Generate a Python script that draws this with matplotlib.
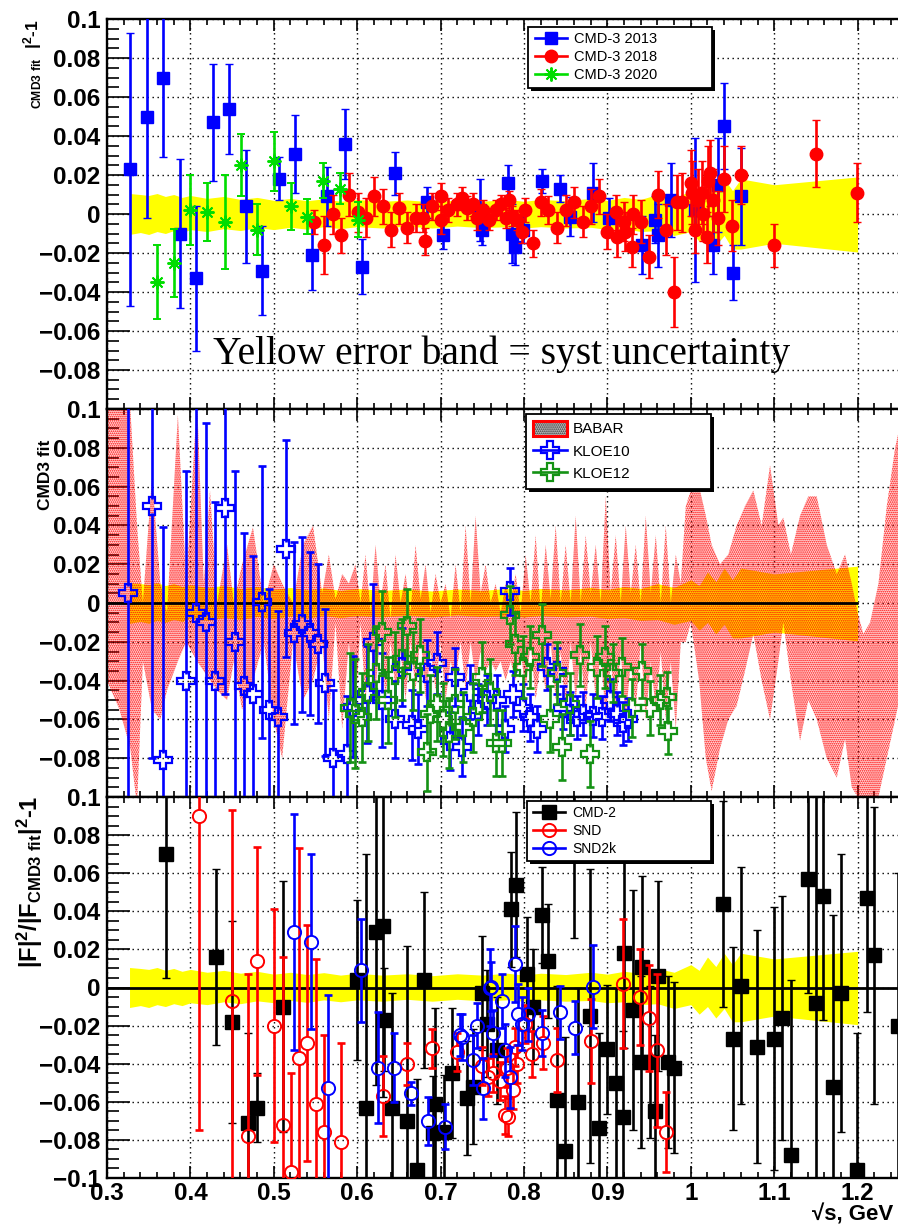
import numpy as np
import matplotlib
matplotlib.use("Agg")
import matplotlib.pyplot as plt
from matplotlib.lines import Line2D
from matplotlib.patches import Patch, Rectangle

plt.rcParams['font.family'] = ['Liberation Sans', 'DejaVu Sans']
plt.rcParams['mathtext.fontset'] = 'custom'
plt.rcParams['mathtext.rm'] = 'Liberation Sans:bold'
plt.rcParams['mathtext.it'] = 'Liberation Sans:bold'
plt.rcParams['mathtext.bf'] = 'Liberation Sans:bold'
plt.rcParams['hatch.linewidth'] = 0.8

# ---------------- data ----------------
# systematic uncertainty band of the CMD-3 fit
band_x = [0.327, 0.34, 0.35, 0.36, 0.37, 0.38, 0.39, 0.40, 0.42, 0.44, 0.46, 0.48, 0.50, 0.52,
          0.54, 0.56, 0.58, 0.60, 0.63, 0.66, 0.69, 0.72, 0.75, 0.78, 0.80, 0.82, 0.85, 0.88,
          0.90, 0.92, 0.94, 0.96, 0.98, 1.00, 1.01, 1.02, 1.03, 1.04, 1.05, 1.06, 1.10, 1.20]
band_hi = [0.0105, 0.010, 0.0095, 0.0105, 0.009, 0.010, 0.0085, 0.0095, 0.008, 0.009, 0.0075,
           0.0085, 0.007, 0.008, 0.0068, 0.0078, 0.0065, 0.0075, 0.0065, 0.0072, 0.0062, 0.0072,
           0.0065, 0.0075, 0.0065, 0.0075, 0.0068, 0.008, 0.007, 0.0085, 0.0075, 0.010, 0.008,
           0.012, 0.009, 0.016, 0.011, 0.018, 0.012, 0.018, 0.015, 0.019]
band_lo = [-0.0105, -0.0095, -0.0105, -0.009, -0.010, -0.0085, -0.0095, -0.008, -0.009, -0.0075,
           -0.0085, -0.007, -0.008, -0.0068, -0.0078, -0.0065, -0.0075, -0.0065, -0.0072, -0.0062,
           -0.0072, -0.0062, -0.007, -0.0065, -0.0072, -0.0065, -0.0072, -0.0068, -0.008, -0.0075,
           -0.009, -0.0085, -0.011, -0.009, -0.014, -0.010, -0.016, -0.011, -0.018, -0.018,
           -0.015, -0.0195]

# CMD-3 2013
c13_x = [0.328, 0.348, 0.367, 0.388, 0.407, 0.427, 0.446, 0.467, 0.486, 0.506, 0.525, 0.546,
         0.564, 0.585, 0.606, 0.645, 0.684, 0.703, 0.747, 0.750, 0.781, 0.786, 0.789, 0.799,
         0.822, 0.843, 0.855, 0.883, 0.902, 0.941, 0.957, 0.961, 0.976, 1.005, 1.027, 1.033,
         1.040, 1.051, 1.060]
c13_y = [0.023, 0.050, 0.070, -0.010, -0.033, 0.047, 0.054, 0.004, -0.029, 0.018, 0.031, -0.021,
         0.009, 0.036, -0.027, 0.021, 0.006, -0.011, 0.002, -0.008, 0.016, -0.010, -0.017, -0.008,
         0.017, 0.013, -0.0015, 0.011, -0.002, -0.016, -0.003, -0.011, 0.007, 0.002, -0.016, 0.015,
         0.045, -0.030, 0.009]
c13_e = [0.070, 0.052, 0.041, 0.038, 0.037, 0.030, 0.023, 0.029, 0.023, 0.011, 0.020, 0.018,
         0.015, 0.018, 0.014, 0.011, 0.008, 0.007, 0.016, 0.008, 0.009, 0.015, 0.009, 0.007,
         0.006, 0.007, 0.010, 0.015, 0.010, 0.015, 0.012, 0.016, 0.019, 0.037, 0.015, 0.024,
         0.022, 0.014, 0.025]

# CMD-3 2018
c18_x = [0.548, 0.560, 0.571, 0.580, 0.590, 0.601, 0.611, 0.620, 0.631, 0.641, 0.650, 0.660,
         0.670, 0.679, 0.681, 0.690, 0.700, 0.701, 0.709, 0.720, 0.726, 0.732, 0.739, 0.744,
         0.751, 0.758, 0.766, 0.772, 0.778, 0.782, 0.786, 0.792, 0.798, 0.801, 0.811, 0.820,
         0.829, 0.840, 0.850, 0.860, 0.871, 0.880, 0.890, 0.900, 0.910, 0.911, 0.920, 0.921,
         0.930, 0.931, 0.940, 0.950, 0.961, 0.970, 0.980, 0.983, 0.989, 1.000, 1.001, 1.005,
         1.009, 1.013, 1.015, 1.019, 1.021, 1.023, 1.027, 1.033, 1.040, 1.049, 1.060, 1.100,
         1.150, 1.199]
c18_y = [-0.004, -0.016, 0.000, -0.011, 0.010, 0.001, -0.002, 0.009, 0.004, -0.008, 0.003, -0.007,
         -0.002, -0.002, -0.014, 0.004, 0.009, -0.003, 0.002, 0.005, 0.008, 0.003, 0.005, -0.002,
         0.002, -0.003, 0.002, 0.005, -0.002, 0.007, -0.001, -0.003, -0.009, 0.002, -0.015, 0.006,
         0.002, -0.007, 0.002, 0.006, -0.004, 0.004, 0.009, -0.009, 0.001, -0.012, -0.004, -0.009,
         -0.017, 0.000, -0.004, -0.022, 0.010, -0.008, -0.040, 0.006, 0.006, 0.016, 0.011, -0.008,
         0.007, 0.011, 0.000, -0.012, 0.017, 0.021, 0.007, -0.002, 0.018, -0.006, 0.020, -0.016,
         0.031, 0.011]
c18_e = [0.006, 0.015, 0.010, 0.009, 0.011, 0.010, 0.010, 0.010, 0.009, 0.009, 0.008, 0.008,
         0.007, 0.007, 0.007, 0.007, 0.007, 0.007, 0.006, 0.006, 0.006, 0.006, 0.006, 0.006,
         0.005, 0.005, 0.005, 0.005, 0.005, 0.005, 0.005, 0.005, 0.006, 0.006, 0.007, 0.007,
         0.007, 0.008, 0.008, 0.008, 0.008, 0.009, 0.009, 0.009, 0.009, 0.010, 0.010, 0.010,
         0.010, 0.010, 0.011, 0.011, 0.012, 0.013, 0.018, 0.014, 0.015, 0.017, 0.016, 0.012,
         0.016, 0.016, 0.014, 0.013, 0.018, 0.017, 0.016, 0.014, 0.017, 0.013, 0.015, 0.011,
         0.017, 0.015]

# CMD-3 2020
c20_x = [0.360, 0.380, 0.400, 0.420, 0.4415, 0.461, 0.480, 0.500, 0.521, 0.540, 0.559, 0.579, 0.601]
c20_y = [-0.035, -0.025, 0.002, 0.001, -0.004, 0.025, -0.008, 0.027, 0.004, -0.0015, 0.017, 0.013, -0.003]
c20_e = [0.019, 0.0175, 0.018, 0.015, 0.024, 0.016, 0.013, 0.015, 0.012, 0.009, 0.009, 0.008, 0.009]

# BABAR band (lower / upper edge)
babar_x = [0.300, 0.315, 0.328, 0.336, 0.343, 0.354, 0.364, 0.372, 0.385, 0.395, 0.408, 0.416,
           0.4235, 0.432, 0.444, 0.452, 0.462, 0.475, 0.488, 0.500, 0.510, 0.523, 0.535, 0.547,
           0.558, 0.566, 0.574, 0.582, 0.590,
           0.598, 0.604, 0.610, 0.616, 0.622, 0.628, 0.634, 0.640, 0.646, 0.652, 0.658, 0.664,
           0.670, 0.676, 0.682, 0.688, 0.694, 0.700, 0.706, 0.712, 0.718, 0.724, 0.730, 0.736,
           0.742, 0.748, 0.754, 0.760, 0.766, 0.772, 0.778, 0.784, 0.790, 0.796, 0.802, 0.808,
           0.814, 0.820, 0.826, 0.832, 0.838, 0.844, 0.850, 0.856, 0.862, 0.868, 0.874, 0.880,
           0.886, 0.892, 0.898, 0.904, 0.910, 0.916, 0.922, 0.928, 0.934, 0.940, 0.946, 0.952,
           0.958, 0.964, 0.970, 0.976, 0.982, 0.988,
           0.994, 1.000, 1.010, 1.018, 1.025, 1.035, 1.045, 1.055, 1.065, 1.075, 1.085, 1.095,
           1.105, 1.111, 1.120, 1.131, 1.141, 1.151, 1.163, 1.175, 1.185, 1.193, 1.200, 1.207,
           1.215, 1.225, 1.235, 1.245, 1.250]
babar_lo = [-0.040, -0.055, -0.075, -0.105, -0.030, -0.055, -0.060, -0.045, -0.030, -0.020,
            -0.030, -0.035, -0.040, -0.045, -0.050, -0.030, -0.055, -0.040, -0.020, -0.060,
            -0.080, -0.020, -0.050, -0.040, -0.020, -0.060, -0.010, -0.065, -0.020,
            -0.055, -0.010, -0.050, -0.020, -0.045, -0.015, -0.050, -0.020, -0.045, -0.025,
            -0.050, -0.020, -0.045, -0.015, -0.050, -0.025, -0.045, -0.020, -0.050, -0.030,
            -0.040, -0.020, -0.045, -0.020, -0.040, -0.025, -0.035, -0.030, -0.035, -0.030,
            -0.040, -0.030, -0.040, -0.025, -0.045, -0.020, -0.050, -0.030, -0.045, -0.020,
            -0.050, -0.025, -0.055, -0.020, -0.050, -0.025, -0.055, -0.020, -0.050, -0.025,
            -0.060, -0.030, -0.055, -0.025, -0.060, -0.030, -0.055, -0.020, -0.060, -0.030,
            -0.055, -0.025, -0.060, -0.030, -0.065, -0.020,
            -0.020, -0.010, -0.040, -0.080, -0.097, -0.075, -0.060, -0.053, -0.035, -0.016,
            -0.040, -0.060, -0.030, -0.010, -0.040, -0.071, -0.050, -0.060, -0.080, -0.090,
            -0.070, -0.095, -0.100, -0.105, -0.100, -0.100, -0.080, -0.060, -0.050]
babar_hi = [0.120, 0.115, 0.100, 0.040, 0.000, 0.065, 0.010, -0.005, 0.097, 0.010, 0.105, 0.010,
            0.058, 0.000, 0.030, 0.000, 0.020, 0.039, 0.000, 0.020, 0.010, 0.000, 0.030, 0.040,
            0.005, 0.025, 0.002, 0.015, 0.010,
            0.020, 0.000, 0.025, -0.005, 0.030, 0.000, 0.020, -0.008, 0.025, 0.000, 0.015, -0.005,
            0.030, 0.002, 0.020, -0.005, 0.015, 0.000, 0.010, -0.008, 0.020, -0.005, 0.040, 0.000,
            0.045, 0.005, 0.020, 0.000, 0.010, -0.005, 0.010, 0.000, 0.015, -0.005, 0.025, 0.000,
            0.035, -0.005, 0.030, 0.002, 0.040, 0.000, 0.030, 0.000, 0.045, 0.000, 0.035, 0.005,
            0.030, 0.000, 0.055, 0.005, 0.035, 0.000, 0.040, 0.005, 0.030, 0.000, 0.045, 0.005,
            0.035, 0.000, 0.040, 0.000, 0.025, 0.010,
            0.050, 0.058, 0.060, 0.045, 0.030, 0.020, 0.025, 0.040, 0.050, 0.058, 0.040, 0.071,
            0.040, 0.044, 0.025, 0.045, 0.055, 0.055, 0.030, 0.015, 0.025, 0.010, -0.005, -0.016,
            -0.010, 0.010, 0.050, 0.080, 0.090]

# KLOE10
k10_x = [0.325, 0.354, 0.367, 0.395, 0.407, 0.419, 0.4295, 0.4415, 0.4535, 0.464, 0.475, 0.486,
         0.494, 0.505, 0.5146, 0.524, 0.534, 0.543, 0.553, 0.561, 0.571, 0.588, 0.595, 0.612,
         0.619, 0.630, 0.645, 0.654, 0.666, 0.673, 0.684, 0.696, 0.711, 0.717, 0.726, 0.735,
         0.745, 0.756, 0.768, 0.777, 0.783, 0.787, 0.799, 0.807, 0.816, 0.828, 0.840, 0.847,
         0.855, 0.864, 0.871, 0.883, 0.8935, 0.903, 0.9115, 0.919, 0.925]
k10_y = [0.005, 0.050, -0.081, -0.040, -0.005, -0.010, -0.040, 0.049, -0.020, -0.043, -0.047,
         0.0005, -0.055, -0.059, 0.028, -0.0155, -0.011, -0.0155, -0.021, -0.041, -0.080, -0.078,
         -0.0535, -0.047, -0.020, -0.050, -0.060, -0.033, -0.063, -0.065, -0.036, -0.031, -0.071,
         -0.038, -0.074, -0.046, -0.055, -0.050, -0.050, -0.065, 0.006, -0.047, -0.054, -0.059,
         -0.065, -0.033, -0.035, -0.054, -0.057, -0.059, -0.057, -0.058, -0.059, -0.050, -0.057,
         -0.062, -0.060]
k10_e = [0.110, 0.130, 0.120, 0.108, 0.130, 0.103, 0.092, 0.096, 0.088, 0.079, 0.071, 0.070,
         0.062, 0.055, 0.056, 0.047, 0.045, 0.042, 0.041, 0.038, 0.035, 0.030, 0.026, 0.025,
         0.030, 0.024, 0.020, 0.020, 0.018, 0.018, 0.017, 0.016, 0.015, 0.015, 0.015, 0.014,
         0.013, 0.013, 0.013, 0.012, 0.012, 0.012, 0.012, 0.012, 0.012, 0.012, 0.012, 0.011,
         0.011, 0.011, 0.011, 0.011, 0.011, 0.011, 0.011, 0.011, 0.011]

# KLOE12
k12_x = [0.591, 0.597, 0.606, 0.613, 0.622, 0.630, 0.637, 0.645, 0.654, 0.660, 0.667, 0.675,
         0.684, 0.687, 0.696, 0.703, 0.710, 0.717, 0.727, 0.739, 0.750, 0.759, 0.766, 0.774,
         0.783, 0.789, 0.799, 0.807, 0.822, 0.831, 0.840, 0.846, 0.855, 0.867, 0.879, 0.8875,
         0.897, 0.907, 0.9175, 0.9295, 0.9415, 0.951, 0.963, 0.971, 0.973]
k12_y = [-0.054, -0.057, -0.059, -0.046, -0.036, -0.015, -0.050, -0.037, -0.029, -0.012, -0.035,
         -0.027, -0.077, -0.057, -0.052, -0.060, -0.067, -0.052, -0.064, -0.059, -0.038, -0.046,
         -0.072, -0.072, -0.006, -0.021, -0.033, -0.028, -0.0165, -0.060, -0.036, -0.074, -0.052,
         -0.027, -0.078, -0.033, -0.028, -0.036, -0.033, -0.054, -0.035, -0.054, -0.050, -0.0485,
         -0.066]
k12_e = [0.028, 0.028, 0.023, 0.025, 0.024, 0.021, 0.022, 0.022, 0.021, 0.019, 0.020, 0.019,
         0.020, 0.020, 0.019, 0.019, 0.018, 0.018, 0.018, 0.018, 0.018, 0.017, 0.017, 0.017,
         0.015, 0.016, 0.016, 0.016, 0.016, 0.017, 0.016, 0.017, 0.016, 0.016, 0.017, 0.016,
         0.016, 0.015, 0.015, 0.015, 0.014, 0.014, 0.013, 0.013, 0.012]

# CMD-2
cmd2_x = [0.371, 0.431, 0.450, 0.469, 0.480, 0.511, 0.600, 0.611, 0.6226, 0.631, 0.632, 0.642,
          0.660, 0.672, 0.680, 0.691, 0.693, 0.704, 0.714, 0.7316, 0.739, 0.7496, 0.7556, 0.7676,
          0.7844, 0.7904, 0.8036, 0.811, 0.8216, 0.829, 0.8396, 0.849, 0.860, 0.8647, 0.879,
          0.890, 0.8995, 0.910, 0.919, 0.9195, 0.931, 0.940, 0.9415, 0.951, 0.957, 0.961, 0.9727,
          0.980, 1.0386, 1.0506, 1.060, 1.079, 1.0998, 1.1094, 1.120, 1.1406, 1.150, 1.1585,
          1.1705, 1.180, 1.1993, 1.2113, 1.2197, 1.2484]
cmd2_y = [0.070, 0.016, -0.018, -0.071, -0.063, -0.010, 0.004, -0.063, 0.029, 0.0325, -0.017,
          -0.063, -0.070, -0.096, 0.004, -0.0765, -0.061, -0.076, -0.045, -0.058, -0.052, -0.003,
          -0.019, -0.033, 0.041, 0.054, 0.007, -0.010, 0.038, 0.014, -0.059, -0.086, 0.075, -0.060,
          -0.015, -0.074, -0.0325, -0.050, -0.068, 0.018, -0.012, -0.039, 0.0105, -0.039, -0.065,
          0.006, -0.039, -0.042, 0.044, -0.027, 0.001, -0.031, -0.027, -0.016, -0.088, 0.057,
          -0.008, 0.048, -0.052, -0.003, -0.096, 0.047, 0.017, -0.020]
cmd2_e = [0.065, 0.046, 0.053, 0.047, 0.018, 0.066, 0.042, 0.133, 0.080, 0.090, 0.027, 0.060,
          0.092, 0.048, 0.046, 0.030, 0.050, 0.030, 0.034, 0.030, 0.030, 0.030, 0.028, 0.028,
          0.030, 0.038, 0.030, 0.030, 0.025, 0.030, 0.060, 0.060, 0.049, 0.060, 0.077, 0.050,
          0.034, 0.050, 0.045, 0.050, 0.063, 0.045, 0.048, 0.040, 0.040, 0.050, 0.045, 0.045,
          0.054, 0.048, 0.062, 0.061, 0.069, 0.064, 0.092, 0.060, 0.110, 0.065, 0.090, 0.073,
          0.072, 0.060, 0.078, 0.080]

# SND
snd_x = [0.410, 0.450, 0.469, 0.480, 0.500, 0.511, 0.521, 0.530, 0.540, 0.551, 0.560, 0.581,
         0.631, 0.660, 0.690, 0.720, 0.750, 0.757, 0.763, 0.771, 0.777, 0.780, 0.781, 0.787,
         0.789, 0.792, 0.801, 0.810, 0.823, 0.840, 0.880, 0.919, 0.939, 0.950, 0.960, 0.970]
snd_y = [0.090, -0.007, -0.078, 0.014, -0.020, -0.072, -0.097, -0.037, -0.029, -0.061, -0.076,
         -0.081, -0.057, -0.040, -0.032, -0.034, -0.041, -0.047, -0.045, -0.049, -0.067, -0.042,
         -0.068, -0.054, -0.031, -0.040, -0.019, -0.035, -0.029, -0.038, -0.028, 0.002, -0.005,
         -0.016, -0.033, -0.076]
snd_e = [0.165, 0.100, 0.085, 0.060, 0.061, 0.088, 0.052, 0.110, 0.062, 0.076, 0.051, 0.052,
         0.021, 0.011, 0.010, 0.010, 0.010, 0.010, 0.010, 0.010, 0.010, 0.010, 0.010, 0.010,
         0.010, 0.010, 0.010, 0.012, 0.014, 0.017, 0.022, 0.034, 0.025, 0.028, 0.040, 0.021]

# SND2k
snd2k_x = [0.5245, 0.5446, 0.565, 0.6046, 0.625, 0.644, 0.6645, 0.685, 0.7053, 0.7233, 0.7257,
           0.739, 0.7436, 0.7508, 0.759, 0.760, 0.763, 0.7736, 0.777, 0.783, 0.789, 0.793,
           0.7976, 0.805, 0.8216, 0.843, 0.861, 0.8827]
snd2k_y = [0.029, 0.024, -0.053, 0.009, -0.042, -0.042, -0.0555, -0.070, -0.073, -0.025, -0.026,
           -0.038, -0.020, -0.053, 0.000, 0.0005, -0.024, -0.007, -0.033, -0.047, 0.0125, -0.014,
           -0.019, -0.014, -0.024, -0.013, -0.021, 0.0005]
snd2k_e = [0.062, 0.046, 0.049, 0.027, 0.029, 0.018, 0.006, 0.0125, 0.012, 0.011, 0.012, 0.013,
           0.012, 0.016, 0.020, 0.013, 0.012, 0.014, 0.014, 0.016, 0.020, 0.016, 0.014, 0.014,
           0.012, 0.014, 0.014, 0.022]

x_ticks = [0.3, 0.4, 0.5, 0.6, 0.7, 0.8, 0.9, 1.0, 1.1, 1.2]
x_tick_labels = ['0.3', '0.4', '0.5', '0.6', '0.7', '0.8', '0.9', '1', '1.1', '1.2']
y_ticks = [-0.1, -0.08, -0.06, -0.04, -0.02, 0.0, 0.02, 0.04, 0.06, 0.08, 0.1]
y_tick_labels = ['\u22120.1', '\u22120.08', '\u22120.06', '\u22120.04', '\u22120.02', '0',
                 '0.02', '0.04', '0.06', '0.08', '0.1']

# ---------------- figure ----------------
W, H = 898, 1224
fig = plt.figure(figsize=(W / 100, H / 100), dpi=100)

XLO, XHI = 0.3, 0.3 + 791 / 834
L = 107 / W


def fy(py):
    return 1 - py / H


ax_top = fig.add_axes([L, fy(409), 1 - L, fy(19) - fy(409)])
ax_mid = fig.add_axes([L, fy(797), 1 - L, fy(409) - fy(797)])
ax_bot = fig.add_axes([L, fy(1178), 1 - L, fy(797) - fy(1178)])

BLUE = '#0000ff'
RED = '#ff0000'
LIME = '#00dd00'
DGREEN = '#149214'
YEL = '#ffff00'
ELW = 1.9


def style(ax, show_x, show_bottom_y):
    ax.set_xlim(XLO, XHI)
    ax.set_ylim(-0.1, 0.1)
    ax.set_xticks(np.round(np.arange(0.3, 1.25, 0.02), 2), minor=True)
    ax.set_yticks(np.round(np.arange(-0.1, 0.1001, 0.005), 3), minor=True)
    ylabels = list(y_tick_labels)
    if not show_bottom_y:
        ylabels[0] = ''
    ax.set_yticks(y_ticks, labels=ylabels, fontsize=17.5, fontweight='bold')
    if show_x:
        ax.set_xticks(x_ticks, labels=x_tick_labels, fontsize=17.5, fontweight='bold')
    else:
        ax.set_xticks(x_ticks, labels=[''] * len(x_ticks))
    ax.tick_params(axis='x', which='both', direction='in', top=True, bottom=True, width=1.2)
    ax.tick_params(axis='x', which='major', length=8.6, pad=3)
    ax.tick_params(axis='x', which='minor', length=4.3)
    ax.tick_params(axis='y', which='both', direction='in', left=True, right=False, width=1.2)
    ax.tick_params(axis='y', which='major', length=16.5, pad=4.5)
    ax.tick_params(axis='y', which='minor', length=8.5)
    ax.grid(True, which='major', color='black', linestyle=(0, (1, 2.6)), linewidth=1.0)
    ax.set_axisbelow(True)
    for s in ('left', 'top', 'bottom'):
        ax.spines[s].set_linewidth(1.7)
    ax.spines['right'].set_visible(False)
    ax.set_facecolor('white')


def per_px(ax):
    h = ax.get_position().height * fig.get_figheight() * fig.dpi
    return 0.2 / h


def filled_series(ax, x, y, e, color, marker, ms, z, mew=1.0):
    ax.errorbar(x, y, yerr=e, marker=marker, ls='none', color=color, ms=ms, mec=color, mfc=color,
                mew=mew, elinewidth=ELW, capsize=2.6, capthick=ELW, zorder=z)


def hollow_series(ax, x, y, e, color, marker, ms, half_px, z, mew=1.6):
    x = np.asarray(x)
    y = np.asarray(y)
    e = np.asarray(e)
    gap = half_px * per_px(ax)
    show = e > gap
    ax.vlines(x[show], (y + gap)[show], (y + e)[show], color=color, lw=ELW, zorder=z)
    ax.vlines(x[show], (y - e)[show], (y - gap)[show], color=color, lw=ELW, zorder=z)
    ax.plot(x[show], (y + e)[show], ls='none', marker='_', ms=5.2, mew=ELW, color=color, zorder=z)
    ax.plot(x[show], (y - e)[show], ls='none', marker='_', ms=5.2, mew=ELW, color=color, zorder=z)
    ax.plot(x, y, ls='none', marker=marker, ms=ms, mfc='none', mec=color, mew=mew, zorder=z + 0.1)


for a, sx, sb in ((ax_top, False, False), (ax_mid, False, False), (ax_bot, True, True)):
    style(a, sx, sb)

# ---- top panel: CMD-3 data sets
ax_top.fill_between(band_x, band_lo, band_hi, color=YEL, lw=0, zorder=1)
filled_series(ax_top, c13_x, c13_y, c13_e, BLUE, 's', 8.3, 3)
filled_series(ax_top, c18_x, c18_y, c18_e, RED, 'o', 9.0, 4)
filled_series(ax_top, c20_x, c20_y, c20_e, LIME, (8, 2, 0), 10, 5, mew=1.4)
ax_top.text(0.427, -0.077, 'Yellow error band = syst uncertainty', family='Liberation Serif',
            fontsize=28.5, va='baseline', ha='left', zorder=6)

# ---- middle panel: BABAR, KLOE
ax_mid.fill_between(band_x, band_lo, band_hi, color=YEL, lw=0, zorder=1)
ax_mid.fill_between(babar_x, babar_lo, babar_hi, facecolor=(1.0, 0.0, 0.0, 0.14), edgecolor=RED,
                    hatch='........', lw=0, zorder=2)
ax_mid.hlines(0, XLO, band_x[-1], color='black', lw=2.0, zorder=3)
hollow_series(ax_mid, k10_x, k10_y, k10_e, BLUE, 'P', 12.5, 7.0, 4)
hollow_series(ax_mid, k12_x, k12_y, k12_e, DGREEN, 'P', 12.5, 7.0, 5)

# ---- bottom panel: CMD-2, SND
ax_bot.fill_between(band_x, band_lo, band_hi, color=YEL, lw=0, zorder=1)
ax_bot.axhline(0, color='black', lw=2.0, zorder=2)
filled_series(ax_bot, cmd2_x, cmd2_y, cmd2_e, 'black', 's', 10, 3)
hollow_series(ax_bot, snd_x, snd_y, snd_e, RED, 'o', 9.5, 6.3, 4, mew=1.4)
hollow_series(ax_bot, snd2k_x, snd2k_y, snd2k_e, BLUE, 'o', 9.5, 6.3, 5, mew=1.4)

# ---- axis titles
fig.text(38 / W, fy(796), r'$|F|^{2}/|F_{\rm CMD3\ fit}|^{2}$-1', rotation=90,
         rotation_mode='anchor', ha='right', va='baseline', fontsize=17, fontweight='bold')
fig.text(38 / W, fy(19), r'$_{\rm CMD3\ fit}\ \ |^{2}$-1', rotation=90,
         rotation_mode='anchor', ha='right', va='baseline', fontsize=12.5, fontweight='bold')
fig.text(45 / W, fy(475), 'CMD3 fit', rotation=90, ha='center', va='center',
         fontsize=12.5, fontweight='bold')
fig.text(812 / W, fy(1221), '\u221as, GeV', ha='left', va='baseline', fontsize=16,
         fontweight='bold')


# ---- legends
def legend_frame(x0, y0, x1, y1):
    sh = Rectangle((x0 / W + 3 / W, fy(y1 + 3)), (x1 - x0) / W, (y1 - y0) / H,
                   transform=fig.transFigure, facecolor='black', edgecolor='black', lw=0, zorder=20)
    bx = Rectangle((x0 / W, fy(y1)), (x1 - x0) / W, (y1 - y0) / H,
                   transform=fig.transFigure, facecolor='white', edgecolor='black', lw=1.3, zorder=21)
    fig.add_artist(sh)
    fig.add_artist(bx)


def legend_entries(handles, labels, x_left, y_mid, fs, hlen, tpad, lspace, hheight=0.7):
    leg = fig.legend(handles, labels, loc='center left', bbox_to_anchor=(x_left / W, fy(y_mid)),
                     frameon=False, fontsize=fs, handlelength=hlen, handletextpad=tpad,
                     labelspacing=lspace, borderpad=0, borderaxespad=0, handleheight=hheight)
    leg.set_zorder(22)
    return leg


legend_frame(528, 27, 712, 88)
h_top = [Line2D([], [], color=BLUE, lw=ELW, marker='s', ms=8.3),
         Line2D([], [], color=RED, lw=ELW, marker='o', ms=9.0),
         Line2D([], [], color=LIME, lw=ELW, marker=(8, 2, 0), ms=10, mew=1.4)]
legend_entries(h_top, ['CMD-3 2013', 'CMD-3 2018', 'CMD-3 2020'], 535, 57, 10.5, 2.2, 0.5, 0.3)

legend_frame(526, 414, 711, 489)
h_mid = [(Patch(facecolor='#bbbbbb', edgecolor='#333333', hatch='........', lw=0),
          Patch(facecolor='none', edgecolor=RED, lw=2.2)),
         Line2D([], [], color=BLUE, lw=ELW, marker='P', ms=12.5, mfc='none', mew=1.6),
         Line2D([], [], color=DGREEN, lw=ELW, marker='P', ms=12.5, mfc='none', mew=1.6)]
legend_entries(h_mid, ['BABAR', 'KLOE10', 'KLOE12'], 533, 451, 11, 2.2, 0.4, 0.45, 1.1)

legend_frame(527, 801, 711, 861)
h_bot = [Line2D([], [], color='black', lw=ELW, marker='s', ms=10),
         Line2D([], [], color=RED, lw=ELW, marker='o', ms=9.5, mfc='none', mew=1.4),
         Line2D([], [], color=BLUE, lw=ELW, marker='o', ms=9.5, mfc='none', mew=1.4)]
legend_entries(h_bot, ['CMD-2', 'SND', 'SND2k'], 533, 831, 10, 2.3, 0.55, 0.3)

fig.savefig('out.png', dpi=100)
